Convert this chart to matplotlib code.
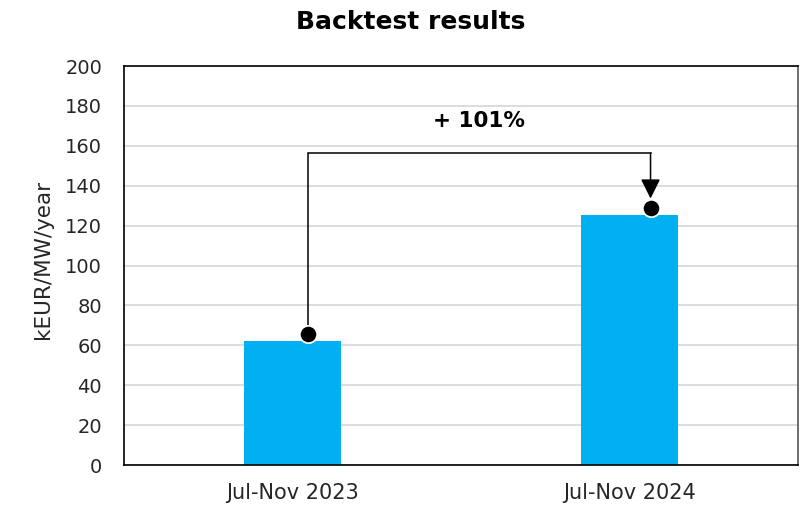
import matplotlib
matplotlib.use("Agg")
import matplotlib.pyplot as plt

# Backtest revenue per period
periods = ["Jul-Nov 2023", "Jul-Nov 2024"]
revenue = [62.3, 125.3]          # kEUR/MW/year
yticks = [0, 20, 40, 60, 80, 100, 120, 140, 160, 180, 200]

bar_color = "#00B0F0"
text_color = "#262626"
font = "DejaVu Sans"

fig = plt.figure(figsize=(8.05, 5.08), dpi=100)
ax = fig.add_axes([0.154, 0.0846, 0.837, 0.7854])

x = list(range(len(periods)))
ax.bar(x, revenue, width=0.287, color=bar_color, zorder=2)

ax.set_xlim(-0.5, 1.5)
ax.set_ylim(0, 200)
ax.set_yticks(yticks)
ax.set_yticklabels([str(t) for t in yticks], fontsize=14, family=font, color=text_color)
ax.set_xticks(x)
ax.set_xticklabels(periods, fontsize=15, family=font, color=text_color)
ax.tick_params(axis="both", length=0)
ax.tick_params(axis="y", pad=15.8)
ax.tick_params(axis="x", pad=13)

ax.yaxis.grid(True, color="#d9d9d9", linewidth=1.3, zorder=0)
ax.set_axisbelow(True)
for side in ["left", "right", "top", "bottom"]:
    ax.spines[side].set_linewidth(1.2)
    ax.spines[side].set_color("#000000")
ax.spines["right"].set_color("#555555")

ax.set_ylabel("kEUR/MW/year", fontsize=15.5, family=font, color=text_color, va="center")
ax.yaxis.set_label_coords(-0.12, 0.515)

fig.suptitle("Backtest results", x=0.51, y=0.98, fontsize=18, fontweight="bold",
             family=font, color="#000000")

# Growth bracket between the two periods
dot_dx = [0.045, 0.063]
dot_gap = 3.3
dot_x = [xi + d for xi, d in zip(x, dot_dx)]
dot_y = [v + dot_gap for v in revenue]
bracket_top = 156.4
arrow_tip = dot_y[1] + 5.0

ax.plot([dot_x[0], dot_x[0], dot_x[1]],
        [dot_y[0], bracket_top, bracket_top],
        color="black", linewidth=1.1, zorder=3,
        solid_joinstyle="miter", solid_capstyle="projecting")
ax.annotate("", xy=(dot_x[1], arrow_tip), xytext=(dot_x[1], bracket_top),
            arrowprops=dict(arrowstyle="-|>,head_length=0.6,head_width=0.3",
                            color="black", linewidth=1.1, mutation_scale=20,
                            shrinkA=0, shrinkB=0),
            zorder=3)
ax.plot(dot_x, dot_y, linestyle="none", marker="o", markersize=12.5,
        markerfacecolor="black", markeredgecolor="white", markeredgewidth=1.3,
        zorder=4, clip_on=False)

growth = round((revenue[1] / revenue[0] - 1) * 100)
mid_x = (dot_x[0] + dot_x[1]) / 2
ax.text(mid_x, 172.5, f"+ {growth}%", ha="center", va="center", fontsize=15.5,
        fontweight="bold", family=font, color="black")

fig.savefig("out.png", dpi=100)
